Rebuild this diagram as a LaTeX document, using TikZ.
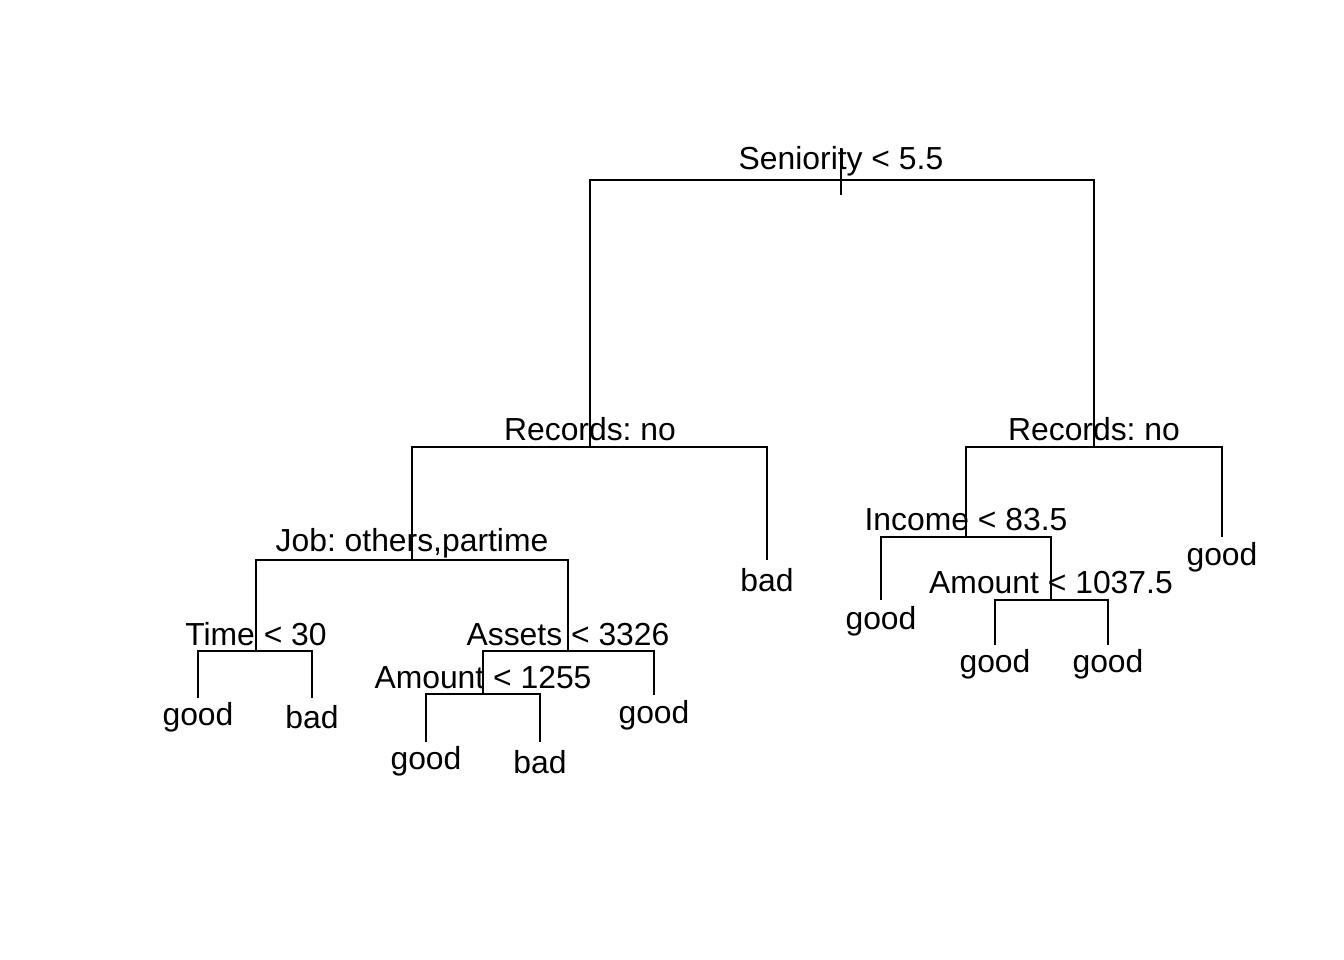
\documentclass[tikz,border=0pt]{standalone}
\usepackage{fontspec}
\setmainfont{Liberation Sans}
\frenchspacing
\usetikzlibrary{positioning}

\tikzset{
  branch/.style={line width=0.6pt},
  splitlab/.style={anchor=base, inner sep=0pt, font=\fontsize{9.06pt}{11pt}\selectfont},
  leaflab/.style={anchor=base, inner sep=0pt, font=\fontsize{9.06pt}{11pt}\selectfont}
}

\begin{document}
\begin{tikzpicture}[x=0.01cm,y=-0.01cm]
  \useasboundingbox (0,0) rectangle (1344,960);

  %Split points of the tree
  \coordinate (root) at (841,180);
  \coordinate (roottop) at (841,148);
  \coordinate (rootbot) at (841,195);
  \coordinate (recl) at (590,447);
  \coordinate (recr) at (1094,447);
  \coordinate (job) at (412,560);
  \coordinate (time) at (256,651);
  \coordinate (assets) at (568,651);
  \coordinate (amtl) at (483,694);
  \coordinate (income) at (966,537);
  \coordinate (amtr) at (1051,600);

  %Leaves of the tree
  \coordinate (leafa) at (767,560);
  \coordinate (leafb) at (198,698);
  \coordinate (leafc) at (312,698);
  \coordinate (leafd) at (426,742);
  \coordinate (leafe) at (540,742);
  \coordinate (leaff) at (654,695);
  \coordinate (leafg) at (1222,537);
  \coordinate (leafh) at (881,600);
  \coordinate (leafi) at (995,645);
  \coordinate (leafj) at (1108,645);

  %Draw split labels
  \node[splitlab] (troot) at (841,169) {Seniority < 5.5};
  \node[splitlab] (trecl) at (590,440) {Records: no};
  \node[splitlab] (trecr) at (1094,440) {Records: no};
  \node[splitlab] (tjob) at (412,551) {Job: others,partime};
  \node[splitlab] (ttime) at (256,645) {Time < 30};
  \node[splitlab] (tassets) at (568,645) {Assets < 3326};
  \node[splitlab] (tamtl) at (483,688) {Amount < 1255};
  \node[splitlab] (tincome) at (966,530) {Income < 83.5};
  \node[splitlab] (tamtr) at (1051,593) {Amount < 1037.5};

  %Draw leaf labels
  \node[leaflab] (ta) at (767,591) {bad};
  \node[leaflab] (tb) at (198,725) {good};
  \node[leaflab] (tc) at (312,728) {bad};
  \node[leaflab] (td) at (426,769) {good};
  \node[leaflab] (te) at (540,773) {bad};
  \node[leaflab] (tf) at (654,723) {good};
  \node[leaflab] (tg) at (1222,565) {good};
  \node[leaflab] (th) at (881,629) {good};
  \node[leaflab] (ti) at (995,672) {good};
  \node[leaflab] (tj) at (1108,672) {good};

  %Draw branches
  \draw[branch] (roottop) -- (rootbot);
  \draw[branch] (root) -| (recl);
  \draw[branch] (root) -| (recr);
  \draw[branch] (recl) -| (job);
  \draw[branch] (recl) -| (leafa);
  \draw[branch] (job) -| (time);
  \draw[branch] (job) -| (assets);
  \draw[branch] (time) -| (leafb);
  \draw[branch] (time) -| (leafc);
  \draw[branch] (assets) -| (amtl);
  \draw[branch] (assets) -| (leaff);
  \draw[branch] (amtl) -| (leafd);
  \draw[branch] (amtl) -| (leafe);
  \draw[branch] (recr) -| (income);
  \draw[branch] (recr) -| (leafg);
  \draw[branch] (income) -| (leafh);
  \draw[branch] (income) -| (amtr);
  \draw[branch] (amtr) -| (leafi);
  \draw[branch] (amtr) -| (leafj);
\end{tikzpicture}
\end{document}
